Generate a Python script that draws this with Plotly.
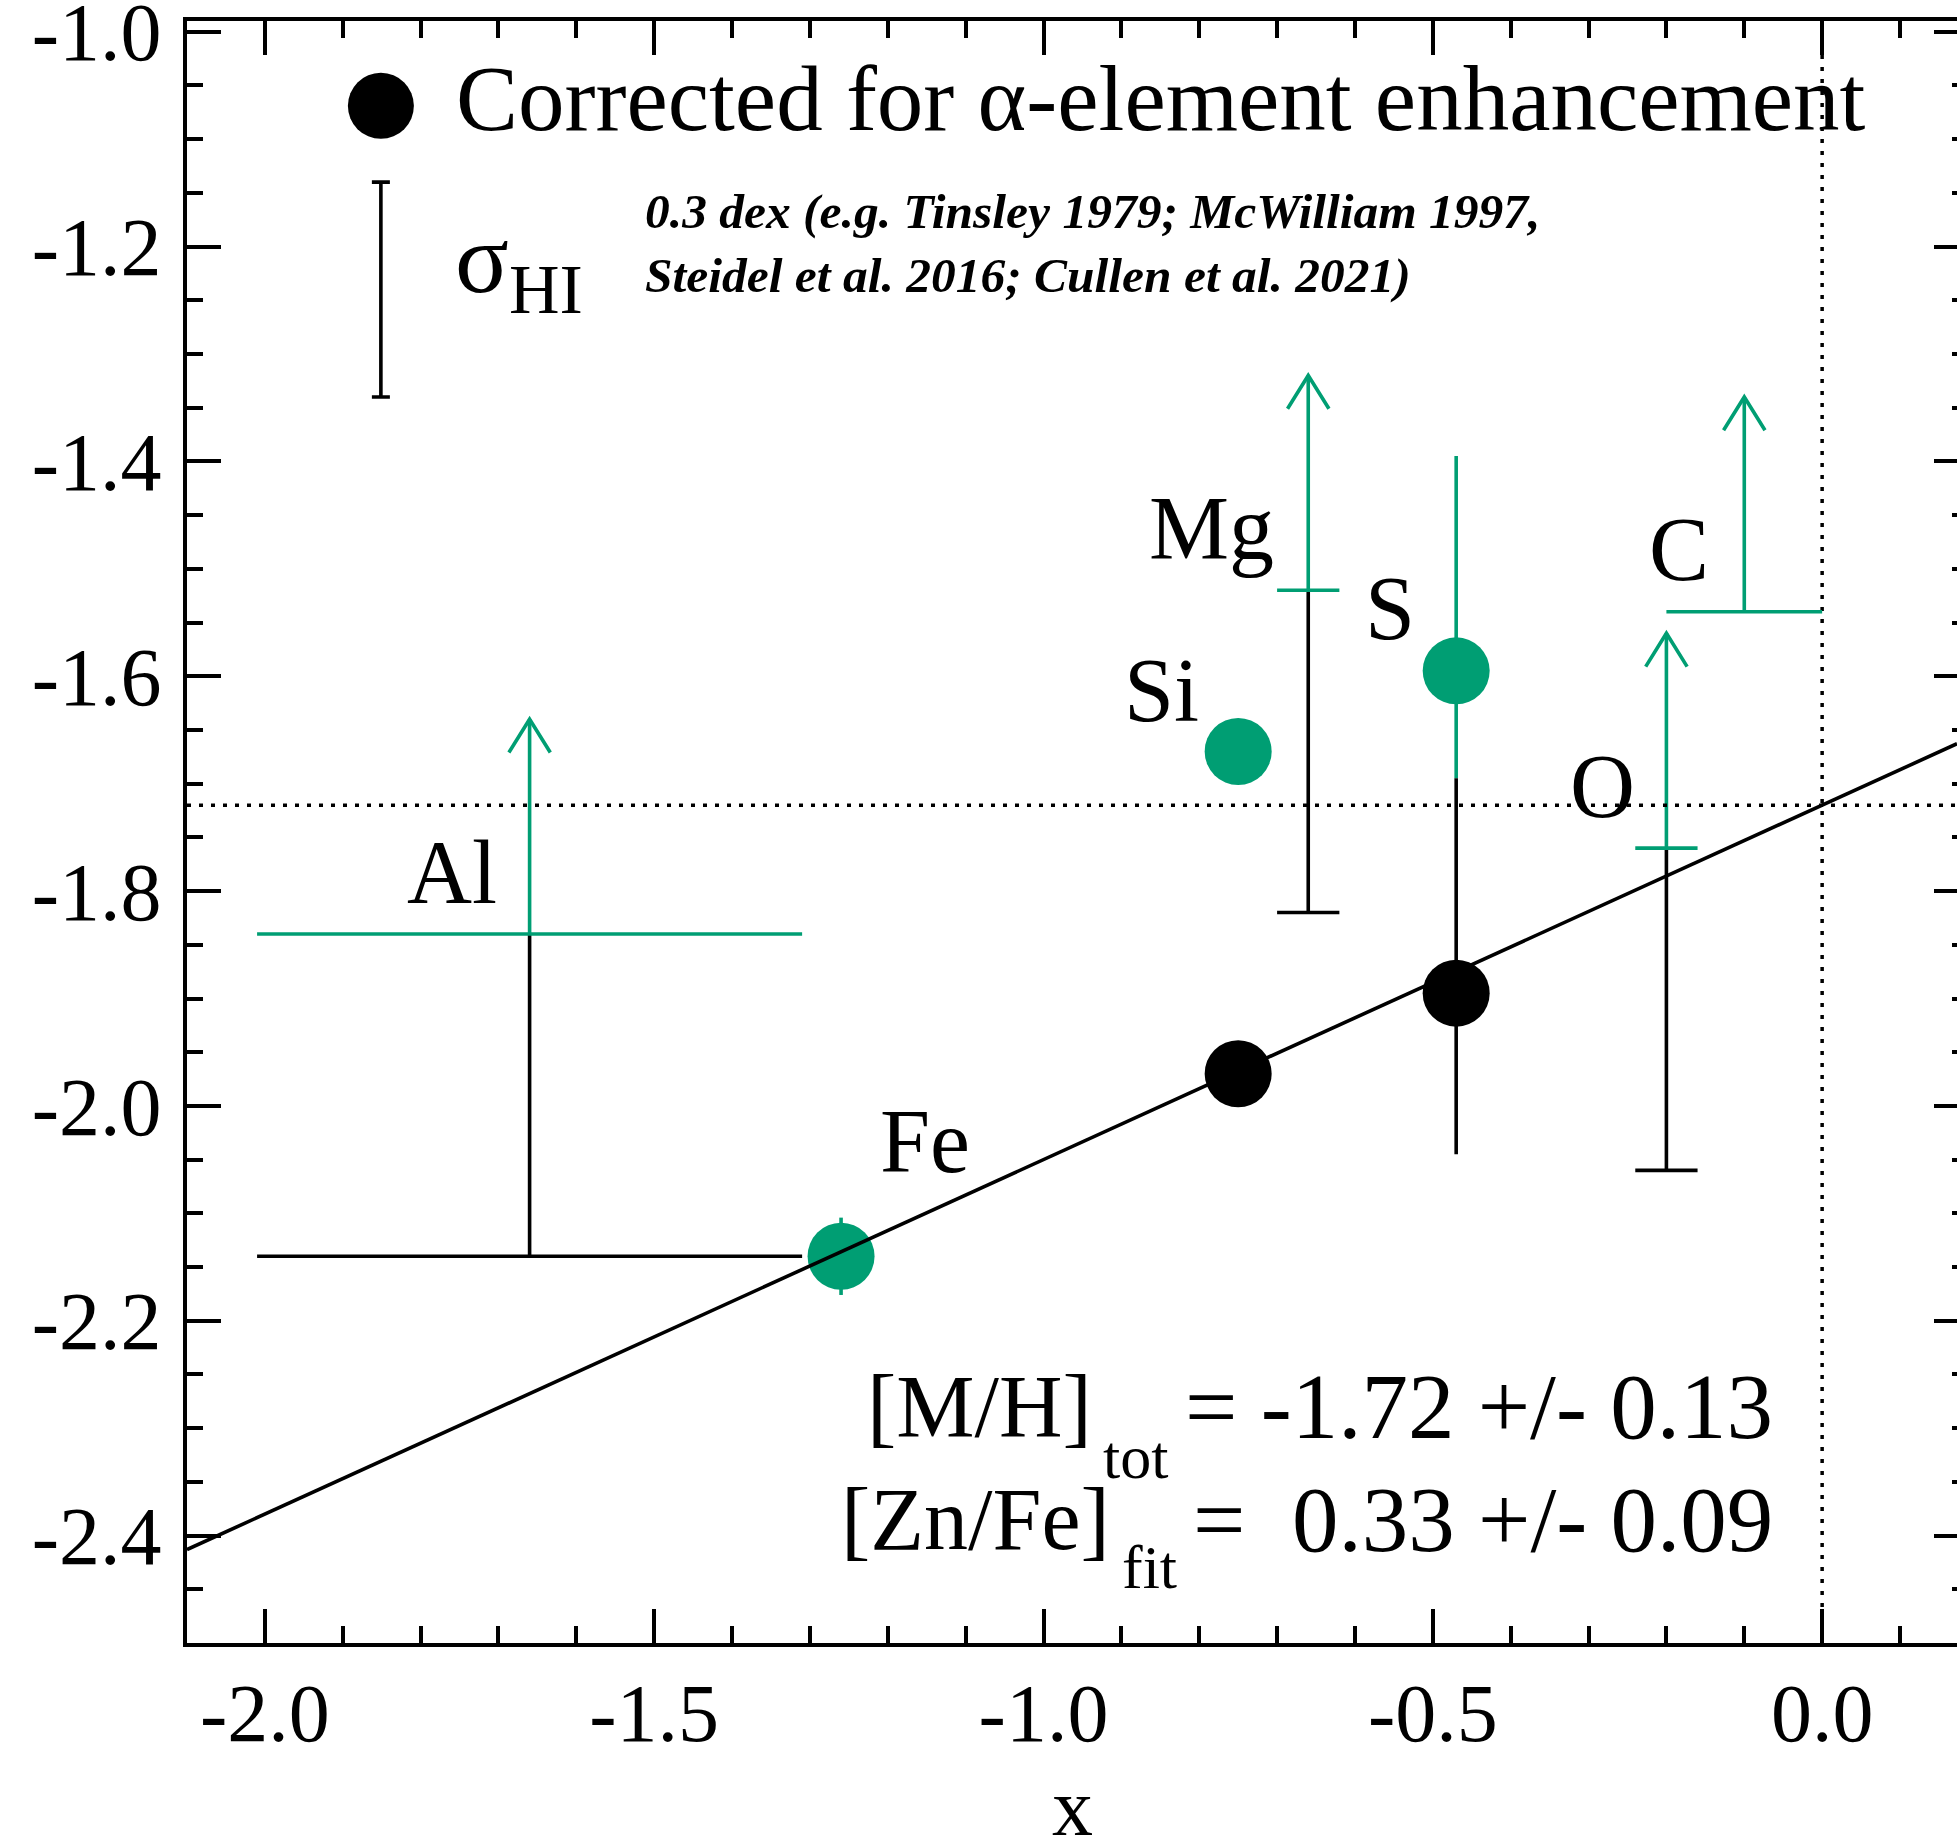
import plotly.graph_objects as go

# ---------------- fit results ----------------
MH_TOT, MH_ERR = -1.72, 0.13      # [M/H]_tot (intercept at x = 0)
ZNFE_FIT, ZNFE_ERR = 0.33, 0.09   # [Zn/Fe]_fit (slope)

# ---------------- measured abundances (green) ----------------
meas_el = ["Fe", "Si", "S"]
meas_x = [-1.26, -0.75, -0.47]
meas_y = [-2.14, -1.67, -1.595]
meas_err_up = [0.036, 0.0, 0.20]
meas_err_dn = [0.036, 0.0, 0.10]

# ---------------- alpha-corrected abundances (black) ----------------
corr_el = ["Si", "S"]
corr_x = [-0.75, -0.47]
corr_y = [-1.97, -1.895]
corr_err_up = [0.0, 0.20]
corr_err_dn = [0.0, 0.15]

# ---------------- lower limits ----------------
lim_el = ["Al", "Mg", "O", "C"]
lim_x = [-1.66, -0.66, -0.20, -0.10]
lim_xerr = [0.35, 0.04, 0.04, 0.10]
lim_y = [-1.84, -1.52, -1.76, -1.54]          # corrected lower limit (green)
lim_y_base = [-2.14, -1.82, -2.06, None]      # uncorrected level (black)

# ---------------- axes ----------------
X_RANGE = [-2.1, 0.1732]
Y_RANGE = [-2.5, -0.99]
x_tickvals = [-2.0, -1.5, -1.0, -0.5, 0.0]
x_ticktext = ["-2.0", "-1.5", "-1.0", "-0.5", "0.0"]
y_tickvals = [-2.4, -2.2, -2.0, -1.8, -1.6, -1.4, -1.2, -1.0]
y_ticktext = ["-2.4", "-2.2", "-2.0", "-1.8", "-1.6", "-1.4", "-1.2", "-1.0"]

# ---------------- styling ----------------
GREEN = "#009E73"
BLACK = "black"
FONT = "Liberation Serif"
LW = 3.6
DOT = 67
ARROW_LEN = 0.2          # length of limit arrows (dex)
HEAD_HALF_W = 0.0266     # arrowhead half width (x units)
HEAD_LEN = 0.031         # arrowhead length (y units)
CLEAR = "rgba(0,0,0,0)"

fig = go.Figure()

# dotted reference lines: [M/H]_tot level and x = 0
fig.add_trace(go.Scatter(
    x=X_RANGE, y=[MH_TOT, MH_TOT], mode="lines", yaxis="y2",
    line=dict(color=BLACK, width=3.5, dash="4px,8px"), hoverinfo="skip"))
fig.add_trace(go.Scatter(
    x=[0.0, 0.0], y=Y_RANGE, mode="lines",
    line=dict(color=BLACK, width=3.5, dash="4px,8px"), hoverinfo="skip"))

# limits: black uncorrected level with connection to the green limit
base_idx = [i for i, v in enumerate(lim_y_base) if v is not None]
fig.add_trace(go.Scatter(
    x=[lim_x[i] for i in base_idx],
    y=[lim_y_base[i] for i in base_idx],
    mode="markers", marker=dict(size=1, color=CLEAR),
    error_x=dict(type="data", array=[lim_xerr[i] for i in base_idx],
                 color=BLACK, thickness=LW, width=0),
    error_y=dict(type="data", symmetric=False,
                 array=[lim_y[i] - lim_y_base[i] for i in base_idx],
                 arrayminus=[0.0] * len(base_idx),
                 color=BLACK, thickness=LW, width=0),
    hoverinfo="skip"))

# limits: green lower-limit bar and arrow shaft
fig.add_trace(go.Scatter(
    x=lim_x, y=lim_y, mode="markers", marker=dict(size=1, color=CLEAR),
    error_x=dict(type="data", array=lim_xerr, color=GREEN, thickness=LW, width=0),
    error_y=dict(type="data", symmetric=False,
                 array=[ARROW_LEN] * len(lim_y), arrayminus=[0.0] * len(lim_y),
                 color=GREEN, thickness=LW, width=0),
    hoverinfo="skip"))

# arrowheads
hx, hy = [], []
for x0, y0 in zip(lim_x, lim_y):
    tip = y0 + ARROW_LEN
    hx += [x0 - HEAD_HALF_W, x0, x0 + HEAD_HALF_W, None]
    hy += [tip - HEAD_LEN, tip, tip - HEAD_LEN, None]
fig.add_trace(go.Scatter(x=hx, y=hy, mode="lines",
                         line=dict(color=GREEN, width=LW), hoverinfo="skip"))

# measured abundances
fig.add_trace(go.Scatter(
    x=meas_x, y=meas_y, mode="markers",
    marker=dict(size=DOT, color=GREEN, line=dict(width=0)),
    error_y=dict(type="data", symmetric=False, array=meas_err_up,
                 arrayminus=meas_err_dn, color=GREEN, thickness=LW, width=0),
    hoverinfo="skip"))

# linear fit
fit_x = X_RANGE
fit_y = [MH_TOT + ZNFE_FIT * v for v in fit_x]
fig.add_trace(go.Scatter(x=fit_x, y=fit_y, mode="lines",
                         line=dict(color=BLACK, width=LW), hoverinfo="skip"))

# alpha-corrected abundances
fig.add_trace(go.Scatter(
    x=corr_x, y=corr_y, mode="markers",
    marker=dict(size=DOT, color=BLACK, line=dict(width=0)),
    error_y=dict(type="data", symmetric=False, array=corr_err_up,
                 arrayminus=corr_err_dn, color=BLACK, thickness=LW, width=0),
    hoverinfo="skip"))

# key: symbol and typical sigma(HI) bar
KEY_X = -1.851
fig.add_trace(go.Scatter(
    x=[KEY_X], y=[-1.069], mode="markers",
    marker=dict(size=66, color=BLACK), hoverinfo="skip"))
fig.add_trace(go.Scatter(
    x=[KEY_X], y=[-1.24], mode="markers", marker=dict(size=1, color=CLEAR),
    error_y=dict(type="data", array=[0.1], color=BLACK, thickness=LW, width=9),
    hoverinfo="skip"))

ann = []


def text(t, x, y, size, xanchor="left", yanchor="middle", align="left",
         xref="x", yref="y"):
    ann.append(dict(text=t, x=x, y=y, xref=xref, yref=yref, showarrow=False,
                    xanchor=xanchor, yanchor=yanchor, align=align,
                    font=dict(family=FONT, size=size, color=BLACK)))


text("Corrected for α-element enhancement", -1.7567, -1.0622, 93)
text("σ<sub>HI</sub>", -1.758, -1.218, 100)
text("<b><i>0.3 dex (e.g. Tinsley 1979; McWilliam 1997,</i></b><br>"
     "<b><i>Steidel et al. 2016; Cullen et al. 2021)</i></b>",
     -1.5139, -1.1975, 49.5)

# element labels
label_pos = {"Al": (-1.7596, -1.7828), "Fe": (-1.1525, -2.0333),
             "Si": (-0.849, -1.6132), "Mg": (-0.7847, -1.4623),
             "S": (-0.5547, -1.5373), "O": (-0.2825, -1.7026),
             "C": (-0.1837, -1.4819)}
for el, (lx, ly) in label_pos.items():
    text(el, lx, ly, 90, xanchor="center")

# fit results
text("[M/H]", -0.935, -2.2795, 88, xanchor="right")
text("tot", -0.926, -2.3266, 62)
text(f"= {MH_TOT:.2f} +/- {MH_ERR:.2f}", -0.060, -2.2795, 93, xanchor="right")
text("[Zn/Fe]", -0.9115, -2.3850, 88, xanchor="right")
text("fit", -0.9015, -2.4291, 62)
text(f"=\u00a0\u00a0{ZNFE_FIT:.2f} +/- {ZNFE_ERR:.2f}", -0.060, -2.3850, 93,
     xanchor="right")

# x-axis title, centred under the plot area
text("x", 0.5, -0.1015, 82, xanchor="center", xref="paper", yref="paper")

axis_common = dict(showgrid=False, zeroline=False, ticks="inside",
                   tickcolor=BLACK, tickwidth=3.5)

fig.update_layout(
    width=1957, height=1839,
    margin=dict(l=187, r=0, t=21, b=196, autoexpand=False),
    paper_bgcolor="white", plot_bgcolor="white",
    showlegend=False,
    font=dict(family=FONT, color=BLACK),
    annotations=ann,
    xaxis=dict(
        range=X_RANGE, tickmode="array", tickvals=x_tickvals, ticktext=x_ticktext,
        ticklen=34, showline=True, linewidth=4, linecolor=BLACK, mirror="ticks",
        minor=dict(tickmode="linear", tick0=0, dtick=0.1, ticks="inside",
                   ticklen=17, tickwidth=3.5, tickcolor=BLACK, showgrid=False),
        tickfont=dict(family=FONT, size=82, color=BLACK),
        ticklabelstandoff=-4, ticklabeloverflow="allow",
        automargin=False, **axis_common),
    yaxis=dict(
        range=Y_RANGE, tickmode="array", tickvals=y_tickvals, ticktext=y_ticktext,
        ticklen=34, showline=True, linewidth=4, linecolor=BLACK, mirror=False,
        minor=dict(tickmode="linear", tick0=-1.0, dtick=0.05, ticks="inside",
                   ticklen=16, tickwidth=3.5, tickcolor=BLACK, showgrid=False),
        tickfont=dict(family=FONT, size=82, color=BLACK),
        ticklabelstandoff=5, ticklabeloverflow="allow",
        automargin=False, **axis_common),
    yaxis2=dict(
        range=Y_RANGE, overlaying="y", side="right",
        tickmode="array", tickvals=y_tickvals, showticklabels=False,
        ticklen=23, showline=False,
        minor=dict(tickmode="linear", tick0=-1.0, dtick=0.05, ticks="inside",
                   ticklen=5, tickwidth=3.5, tickcolor=BLACK, showgrid=False),
        automargin=False, **axis_common),
)

fig.write_html("out.html")
